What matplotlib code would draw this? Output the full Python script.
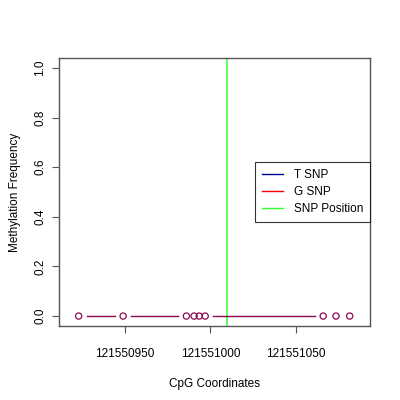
import matplotlib
matplotlib.use('Agg')
import matplotlib.pyplot as plt
from matplotlib.lines import Line2D

# CpG positions and methylation values
cpg_pos = [121550923, 121550949, 121550986, 121550990.5, 121550993.5,
           121550997, 121551066, 121551073.5, 121551081.5]
meth_freq = [0, 0, 0, 0, 0, 0, 0, 0, 0]
snp_pos = 121551010

x_ticks = [121550950, 121551000, 121551050]
y_ticks = [0.0, 0.2, 0.4, 0.6, 0.8, 1.0]

line_col = '#8B0A50'

plt.rcParams['font.family'] = ['Liberation Sans', 'DejaVu Sans']

fig = plt.figure(figsize=(4, 4), dpi=100)
ax = fig.add_axes([0.1475, 0.185, 0.778, 0.67])

# R style "b" type: points with gaps in the line
ax.plot(cpg_pos, meth_freq, color=line_col, lw=1, zorder=2)
ax.scatter(cpg_pos, meth_freq, s=110, facecolor='white', edgecolor='white', lw=0, zorder=3)
ax.scatter(cpg_pos, meth_freq, s=20, facecolor='none', edgecolor=line_col, lw=0.9, zorder=4)
ax.axvline(snp_pos, color='#33FF33', lw=1.1, zorder=1)

ax.set_xlim(121550911.5, 121551093.5)
ax.set_ylim(-0.04, 1.04)
ax.set_xticks(x_ticks)
ax.set_xticklabels([str(t) for t in x_ticks], fontsize=8.5)
ax.set_yticks(y_ticks)
ax.set_yticklabels(['%.1f' % t for t in y_ticks], fontsize=8.5, rotation=90, va='center')
ax.tick_params(axis='x', length=5, pad=11, color='#555555')
ax.tick_params(axis='y', length=5, pad=4, color='#555555')

for s in ['left', 'bottom', 'right', 'top']:
    ax.spines[s].set_color('#555555')
    ax.spines[s].set_linewidth(1)

ax.set_xlabel('CpG Coordinates', fontsize=8.5, labelpad=13)
ax.set_ylabel('Methylation Frequency', fontsize=8.5, labelpad=10)

handles = [Line2D([], [], color='#00008B', lw=1),
           Line2D([], [], color='#FF0000', lw=1),
           Line2D([], [], color='#33FF33', lw=1)]
leg = ax.legend(handles, ['T SNP', 'G SNP', 'SNP Position'], loc='center right',
                bbox_to_anchor=(1.0, 0.5), fontsize=8.5, frameon=True, fancybox=False,
                handlelength=1.8, handletextpad=0.9, borderpad=0.6, labelspacing=0.45,
                borderaxespad=0)
leg.get_frame().set_edgecolor('black')
leg.get_frame().set_linewidth(0.8)

fig.savefig('out.png', dpi=100)
